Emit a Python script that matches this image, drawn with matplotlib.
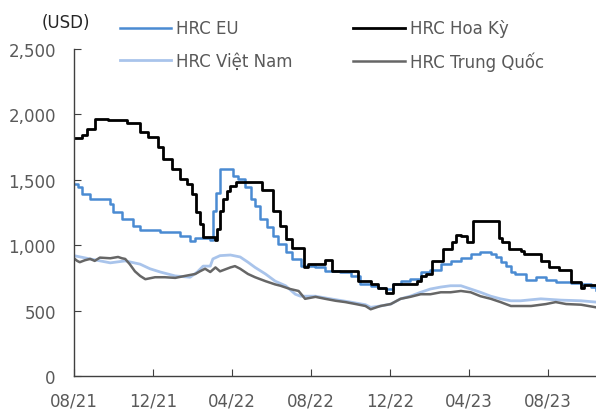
import matplotlib.pyplot as plt
import matplotlib.dates as mdates
from matplotlib.ticker import FuncFormatter
import pandas as pd

# HRC Hoa Ky (weekly steps)
us_dates = ["2021-08-01", "2021-08-13", "2021-08-21", "2021-09-02", "2021-09-22",
            "2021-10-22", "2021-11-11", "2021-11-23", "2021-12-09", "2021-12-16",
            "2021-12-30", "2022-01-12", "2022-01-22", "2022-01-30", "2022-02-05",
            "2022-02-11", "2022-02-16", "2022-03-07", "2022-03-10", "2022-03-14",
            "2022-03-19", "2022-03-24", "2022-03-30", "2022-04-08", "2022-05-18",
            "2022-06-03", "2022-06-15", "2022-06-23", "2022-07-03", "2022-07-22",
            "2022-07-28", "2022-08-23", "2022-09-02", "2022-10-13", "2022-11-01",
            "2022-11-13", "2022-11-24", "2022-12-06", "2023-01-11", "2023-01-18",
            "2023-01-25", "2023-02-04", "2023-02-21", "2023-03-07", "2023-03-12",
            "2023-03-20", "2023-03-30", "2023-04-07", "2023-05-17", "2023-05-23",
            "2023-06-02", "2023-06-20", "2023-06-25", "2023-07-21", "2023-08-02",
            "2023-08-18", "2023-09-05", "2023-09-21", "2023-09-25", "2023-10-14"]
us_vals = [1820, 1840, 1890, 1965, 1955,
           1935, 1865, 1830, 1750, 1660,
           1580, 1505, 1470, 1390, 1255,
           1160, 1060, 1040, 1125, 1260,
           1350, 1415, 1450, 1480, 1420,
           1260, 1145, 1050, 980, 830,
           855, 890, 800, 725, 700,
           675, 635, 700, 725, 765,
           780, 880, 970, 1025, 1080,
           1070, 1025, 1185, 1055, 1025,
           970, 955, 930, 880, 830,
           810, 720, 675, 695, 695]

# HRC EU
eu_dates = ["2021-08-01", "2021-08-07", "2021-08-13", "2021-08-26", "2021-09-26",
            "2021-09-30", "2021-10-14", "2021-10-31", "2021-11-11", "2021-12-12",
            "2022-01-12", "2022-01-27", "2022-02-04", "2022-02-27", "2022-03-03",
            "2022-03-08", "2022-03-14", "2022-04-03", "2022-04-10", "2022-04-22",
            "2022-04-30", "2022-05-07", "2022-05-15", "2022-05-26", "2022-06-03",
            "2022-06-12", "2022-06-23", "2022-07-03", "2022-07-16", "2022-08-08",
            "2022-08-23", "2022-09-15", "2022-10-01", "2022-10-16", "2022-11-01",
            "2022-11-13", "2022-11-24", "2022-12-05", "2022-12-17", "2023-01-01",
            "2023-01-17", "2023-02-01", "2023-02-17", "2023-03-04", "2023-03-20",
            "2023-04-04", "2023-04-19", "2023-05-05", "2023-05-13", "2023-05-20",
            "2023-05-28", "2023-06-05", "2023-06-12", "2023-06-28", "2023-07-13",
            "2023-07-29", "2023-08-13", "2023-09-05", "2023-09-21", "2023-10-06",
            "2023-10-14"]
eu_vals = [1470, 1445, 1390, 1355, 1315,
           1255, 1200, 1145, 1115, 1100,
           1070, 1030, 1055, 1040, 1260,
           1400, 1580, 1530, 1505, 1445,
           1350, 1300, 1200, 1140, 1070,
           1010, 950, 895, 840, 830,
           800, 795, 765, 700, 690,
           675, 665, 700, 725, 740,
           795, 810, 855, 880, 900,
           930, 945, 930, 910, 870,
           840, 795, 780, 735, 755,
           735, 720, 710, 700, 680,
           660]

# HRC Viet Nam
vn_dates = ["2021-08-01", "2021-08-26", "2021-09-26", "2021-10-19", "2021-11-11",
            "2021-11-26", "2021-12-12", "2022-01-04", "2022-01-27", "2022-02-07",
            "2022-02-16", "2022-02-27", "2022-03-03", "2022-03-14", "2022-03-30",
            "2022-04-14", "2022-04-26", "2022-05-07", "2022-05-23", "2022-06-07",
            "2022-06-23", "2022-07-08", "2022-07-16", "2022-08-08", "2022-08-31",
            "2022-10-01", "2022-10-24", "2022-11-01", "2022-11-16", "2022-12-02",
            "2022-12-17", "2023-01-01", "2023-01-17", "2023-02-01", "2023-02-17",
            "2023-03-04", "2023-03-20", "2023-04-04", "2023-04-19", "2023-05-05",
            "2023-05-20", "2023-06-05", "2023-06-20", "2023-07-21", "2023-08-21",
            "2023-09-21", "2023-10-14"]
vn_vals = [920, 895, 865, 880, 855,
           820, 795, 765, 755, 795,
           840, 840, 895, 920, 925,
           910, 870, 830, 780, 725,
           690, 625, 610, 610, 590,
           565, 545, 525, 535, 550,
           590, 610, 640, 665, 680,
           690, 690, 665, 640, 610,
           590, 575, 575, 590, 580,
           575, 565]

# HRC Trung Quoc
cn_dates = ["2021-08-01", "2021-08-06", "2021-08-10", "2021-08-18", "2021-08-26",
            "2021-09-02", "2021-09-10", "2021-09-26", "2021-10-08", "2021-10-14",
            "2021-10-19", "2021-10-26", "2021-11-03", "2021-11-11", "2021-11-19",
            "2021-12-04", "2021-12-19", "2022-01-04", "2022-01-19", "2022-02-04",
            "2022-02-11", "2022-02-19", "2022-02-27", "2022-03-07", "2022-03-14",
            "2022-03-30", "2022-04-06", "2022-04-14", "2022-04-26", "2022-05-07",
            "2022-05-23", "2022-06-07", "2022-06-15", "2022-06-30", "2022-07-13",
            "2022-07-23", "2022-08-08", "2022-08-23", "2022-09-08", "2022-09-23",
            "2022-10-09", "2022-10-24", "2022-11-01", "2022-11-16", "2022-12-02",
            "2022-12-17", "2023-01-01", "2023-01-17", "2023-02-01", "2023-02-17",
            "2023-03-04", "2023-03-20", "2023-04-04", "2023-04-19", "2023-05-05",
            "2023-05-20", "2023-06-05", "2023-06-20", "2023-07-06", "2023-07-29",
            "2023-08-13", "2023-08-29", "2023-09-21", "2023-10-14"]
cn_vals = [900, 880, 870, 885, 895,
           880, 905, 900, 910, 900,
           895, 855, 800, 765, 740,
           755, 755, 750, 765, 780,
           800, 820, 795, 830, 800,
           830, 840, 820, 780, 755,
           725, 700, 690, 665, 650,
           590, 605, 590, 575, 565,
           550, 535, 510, 535, 550,
           590, 605, 625, 625, 640,
           640, 650, 640, 610, 590,
           565, 535, 535, 535, 550,
           565, 550, 545, 525]

tick_dates = ["2021-08-01", "2021-12-01", "2022-04-01", "2022-08-01",
              "2022-12-01", "2023-04-01", "2023-08-01"]

txt = "#595959"
plt.rcParams["font.family"] = ["DejaVu Sans"]

fig = plt.figure(figsize=(5.96, 4.10), dpi=100)
ax = fig.add_axes([0.124, 0.0805, 0.876, 0.7976])

ax.plot(pd.to_datetime(vn_dates), vn_vals, color="#A9C4EB", lw=2.0,
        label="HRC Việt Nam")
ax.plot(pd.to_datetime(cn_dates), cn_vals, color="#666666", lw=1.8,
        label="HRC Trung Quốc")
ax.step(pd.to_datetime(eu_dates), eu_vals, where="post", color="#4A8BD2", lw=1.8,
        label="HRC EU")
ax.step(pd.to_datetime(us_dates), us_vals, where="post", color="black", lw=2.0,
        label="HRC Hoa Kỳ")

ax.set_ylim(0, 2500)
ax.set_yticks(range(0, 2501, 500))
ax.yaxis.set_major_formatter(FuncFormatter(lambda v, p: f"{int(v):,}"))
ax.set_xlim(pd.Timestamp("2021-08-01"), pd.Timestamp("2023-10-14"))
ax.set_xticks(pd.to_datetime(tick_dates))
ax.xaxis.set_major_formatter(mdates.DateFormatter("%m/%y"))

for s in ["top", "right"]:
    ax.spines[s].set_visible(False)
for s in ["left", "bottom"]:
    ax.spines[s].set_color("#404040")
    ax.spines[s].set_linewidth(1.0)
ax.tick_params(axis="both", direction="in", length=5, color="#404040",
               labelsize=12, labelcolor=txt)
ax.tick_params(axis="y", pad=13)
ax.tick_params(axis="x", pad=11)

handles, labels = ax.get_legend_handles_labels()
order = [2, 0, 3, 1]
fig.legend([handles[i] for i in order], [labels[i] for i in order],
           loc="upper left", bbox_to_anchor=(0.201, 0.95), ncol=2,
           frameon=False, fontsize=12, labelcolor=txt, handlelength=3.1,
           handletextpad=0.3, columnspacing=3.6, labelspacing=0.85,
           borderpad=0, borderaxespad=0)

fig.text(0.111, 0.944, "(USD)", ha="center", va="center", fontsize=12, color="#262626")

fig.savefig("out.png", dpi=100)
